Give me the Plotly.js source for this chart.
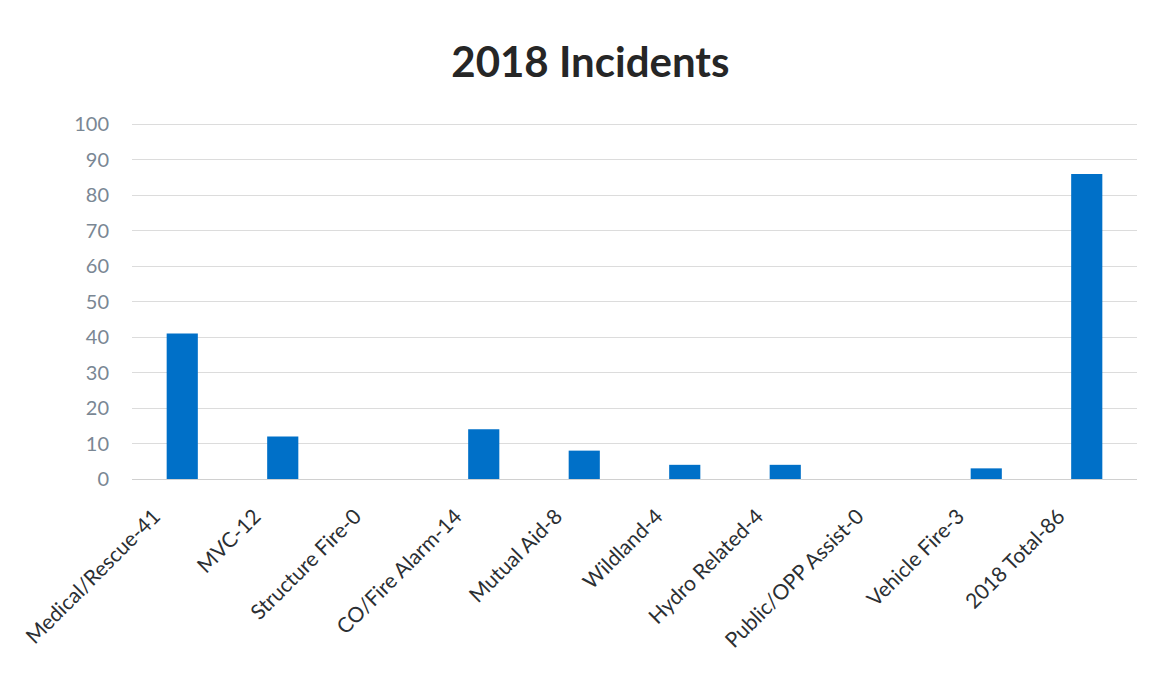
<!DOCTYPE html>
<html>
<head>
<meta charset="utf-8">
<script src="https://cdn.plot.ly/plotly-3.0.1.min.js"></script>
<style>html,body{margin:0;padding:0;background:#fff;}#chart{width:1153px;height:679px;}</style>
</head>
<body>
<div id="chart"></div>
<script>
const categories = ["Medical/Rescue-41","MVC-12","Structure Fire-0","CO/Fire Alarm-14","Mutual Aid-8","Wildland-4","Hydro Related-4","Public/OPP Assist-0","Vehicle Fire-3","2018 Total-86"];
const values = [41, 12, 0, 14, 8, 4, 4, 0, 3, 86];
const yTicks = [0,10,20,30,40,50,60,70,80,90,100];

const trace = {
  type: "bar",
  x: categories,
  y: values,
  marker: {color: "#0070C8", line: {width: 0}},
  hoverinfo: "x+y"
};

const layout = {
  width: 1153,
  height: 679,
  paper_bgcolor: "#ffffff",
  plot_bgcolor: "#ffffff",
  margin: {l: 132, r: 16, t: 123, b: 200},
  bargap: 0.69,
  showlegend: false,
  title: {
    text: "<b>2018 Incidents</b>",
    font: {family: "Lato, 'Open Sans', sans-serif", size: 42, color: "#262626"},
    x: 0.512, xref: "container", xanchor: "center",
    y: 0.908, yref: "container", yanchor: "middle"
  },
  xaxis: {
    type: "category",
    tickangle: -45,
    tickfont: {family: "Lato, 'Open Sans', sans-serif", size: 21, color: "#2b2f33"},
    showgrid: false,
    showline: false,
    ticks: "",
    ticklen: 0,
    ticklabelstandoff: 20,
    ticklabelshift: -28
  },
  yaxis: {
    range: [0, 100.4],
    tickvals: yTicks,
    ticktext: yTicks.map(String),
    tickfont: {family: "Lato, 'Open Sans', sans-serif", size: 20, color: "#7a8794"},
    showgrid: true,
    gridcolor: "#dcdcdc",
    gridwidth: 1,
    zeroline: true,
    zerolinecolor: "#d0d0d0",
    showline: false,
    ticks: "",
    ticklabelstandoff: 22
  }
};

Plotly.newPlot("chart", [trace], layout, {displayModeBar: false, staticPlot: true});
</script>
</body>
</html>
